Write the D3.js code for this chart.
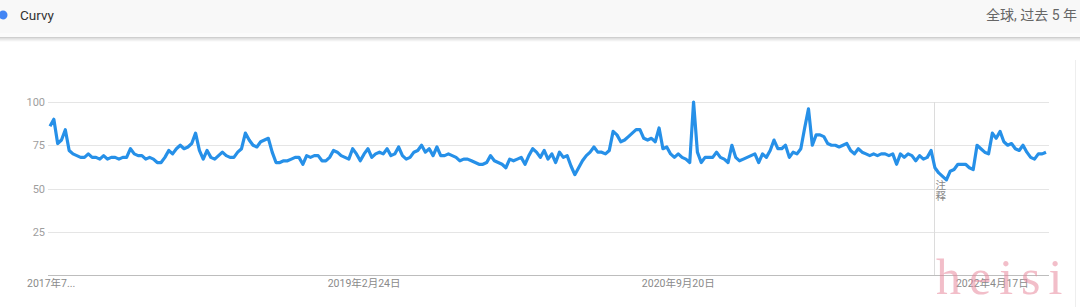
<!DOCTYPE html>
<html>
<head>
<meta charset="utf-8">
<script src="https://cdn.jsdelivr.net/npm/d3@7"></script>
<style>
  body { margin: 0; background: #fff; }
  svg { display: block; font-family: Roboto, "Noto Sans CJK SC", sans-serif; }
</style>
</head>
<body>
<svg id="chart"></svg>
<script>
const width = 1080;
const height = 307;

// weekly interest, 2017-07-30 .. 2022-07-24
const startDate = new Date(2017, 6, 30);
const interest = [
  86, 90, 76, 78, 84, 72, 70, 69, 68, 68, 70, 68, 68, 67, 69, 67, 68, 68, 67, 68,
  68, 73, 70, 69, 69, 67, 68, 67, 65, 65, 68, 72, 70, 73, 75, 73, 74, 76, 82, 72,
  67, 72, 68, 67, 69, 71, 69, 68, 68, 71, 73, 82, 78, 75, 74, 77, 78, 79, 71, 65,
  65, 66, 66, 67, 68, 68, 64, 69, 68, 69, 69, 66, 66, 68, 72, 71, 69, 68, 67, 73,
  70, 66, 70, 73, 68, 70, 71, 70, 73, 69, 70, 74, 69, 67, 68, 71, 72, 75, 71, 73,
  69, 74, 69, 69, 70, 69, 68, 66, 67, 67, 66, 65, 64, 64, 65, 69, 66, 65, 64, 62,
  67, 66, 67, 68, 64, 69, 73, 71, 68, 72, 67, 70, 65, 71, 68, 69, 63, 58, 62, 66,
  69, 71, 74, 71, 71, 70, 72, 83, 81, 77, 78, 80, 82, 84, 84, 79, 78, 79, 77, 85,
  73, 74, 70, 68, 70, 68, 67, 65, 100, 71, 65, 68, 68, 68, 71, 68, 67, 65, 75, 68,
  66, 67, 68, 69, 70, 65, 70, 68, 72, 78, 73, 73, 75, 68, 71, 70, 73, 85, 96, 75,
  81, 81, 80, 76, 75, 75, 74, 75, 76, 72, 70, 73, 71, 70, 69, 70, 69, 70, 70, 69,
  70, 64, 70, 68, 70, 69, 66, 69, 67, 68, 72, 62, 59, 57, 55, 60, 61, 64, 64, 64,
  62, 61, 75, 73, 71, 70, 82, 79, 83, 77, 75, 76, 73, 72, 75, 71, 68, 67, 70, 70,
  71
];
const yTicks = [25, 50, 75, 100];
const xTickDates = [new Date(2017, 6, 30), new Date(2019, 1, 24), new Date(2020, 8, 20), new Date(2022, 3, 17)];
const xTickLabels = ["2017年7...", "2019年2月24日", "2020年9月20日", "2022年4月17日"];
const noteDate = new Date(2022, 0, 1);
const noteLabel = ["注", "释"];
const seriesName = "Curvy";
const scopeLabel = "全球, 过去 5 年";

const data = interest.map((v, i) => ({ date: d3.timeWeek.offset(startDate, i), value: v }));

const svg = d3.select('#chart')
  .attr('width', width)
  .attr('height', height);

// header bar
const defs = svg.append('defs');
const shadow = defs.append('linearGradient').attr('id', 'shadow')
  .attr('x1', 0).attr('x2', 0).attr('y1', 0).attr('y2', 1);
shadow.append('stop').attr('offset', 0).attr('stop-color', '#000').attr('stop-opacity', 0.14);
shadow.append('stop').attr('offset', 1).attr('stop-color', '#000').attr('stop-opacity', 0);

svg.append('rect').attr('x', 0).attr('y', 0).attr('width', width).attr('height', 37).attr('fill', '#f8f8f8');
svg.append('rect').attr('x', 0).attr('y', 33).attr('width', width).attr('height', 4).attr('fill', '#fbfbfb');
svg.append('line').attr('x1', 0).attr('x2', width).attr('y1', 37.5).attr('y2', 37.5).attr('stroke', '#cfcfcf');
svg.append('rect').attr('x', 0).attr('y', 38).attr('width', width).attr('height', 4).attr('fill', 'url(#shadow)');

svg.append('circle').attr('cx', 3).attr('cy', 15).attr('r', 4.5).attr('fill', '#4285f4');
svg.append('text').attr('x', 20).attr('y', 20).attr('font-size', 13.5).attr('fill', '#333').text(seriesName);
svg.append('text').attr('x', 1077).attr('y', 20).attr('text-anchor', 'end')
  .attr('font-size', 14).attr('fill', '#666').text(scopeLabel);

// right card edge
svg.append('line').attr('x1', 1075.5).attr('x2', 1075.5).attr('y1', 60).attr('y2', height)
  .attr('stroke', '#eeeeee');

// scales
const x = d3.scaleTime()
  .domain([data[0].date, data[data.length - 1].date])
  .range([50, 1046]);
const y = d3.scaleLinear().domain([0, 100]).range([275, 102]);

// grid + y labels
const grid = svg.append('g');
grid.selectAll('line').data(yTicks).enter().append('line')
  .attr('x1', 48).attr('x2', 1049)
  .attr('y1', d => Math.round(y(d)) + 0.5).attr('y2', d => Math.round(y(d)) + 0.5)
  .attr('stroke', '#e5e5e5');
grid.selectAll('text').data(yTicks).enter().append('text')
  .attr('x', 45).attr('y', d => y(d) + 4)
  .attr('text-anchor', 'end').attr('font-size', 11).attr('fill', '#9e9e9e')
  .text(d => d);

// baseline
svg.append('line').attr('x1', 48).attr('x2', 1049)
  .attr('y1', Math.round(y(0)) + 0.5).attr('y2', Math.round(y(0)) + 0.5)
  .attr('stroke', '#bdbdbd');

// x labels
svg.append('g').selectAll('text').data(xTickDates).enter().append('text')
  .attr('x', (d, i) => i === 0 ? x(d) - 23 : x(d))
  .attr('y', 287)
  .attr('text-anchor', (d, i) => i === 0 ? 'start' : 'middle')
  .attr('font-size', 10.5).attr('fill', '#8a8a8a')
  .text((d, i) => xTickLabels[i]);

// annotation marker
const nx = Math.round(x(noteDate)) + 0.5;
svg.append('line').attr('x1', nx).attr('x2', nx).attr('y1', y(100)).attr('y2', y(0))
  .attr('stroke', '#dcdcdc');
svg.append('g').selectAll('text').data(noteLabel).enter().append('text')
  .attr('x', nx + 1).attr('y', (d, i) => 189 + i * 11)
  .attr('font-size', 10.5).attr('fill', '#888')
  .text(d => d);

// the series line
const line = d3.line()
  .x(d => x(d.date))
  .y(d => y(d.value));

svg.append('path')
  .datum(data)
  .attr('fill', 'none')
  .attr('stroke', '#2690e8')
  .attr('stroke-width', 3.2)
  .attr('stroke-linejoin', 'round')
  .attr('d', line);

// watermark
svg.append('text')
  .attr('x', 936).attr('y', 294)
  .attr('font-family', '"Liberation Serif", "DejaVu Serif", serif')
  .attr('font-size', 50).attr('letter-spacing', 8)
  .attr('fill', '#e8899c').attr('fill-opacity', 0.55)
  .text('heisi');
</script>
</body>
</html>
